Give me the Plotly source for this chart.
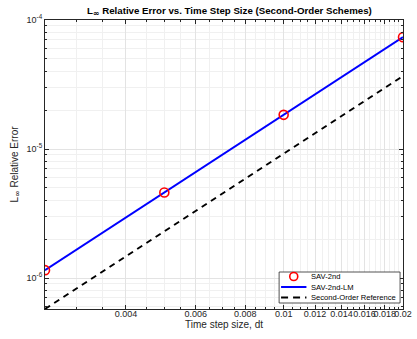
import numpy as np
import plotly.graph_objects as go

# Time step sizes and L-infinity relative errors
dt = [0.0025, 0.005, 0.01, 0.02]
err_sav2 = [1.15e-6, 4.6e-6, 1.84e-5, 7.36e-5]
err_sav2_lm = [1.15e-6, 4.6e-6, 1.84e-5, 7.36e-5]
ref_second_order = [5.75e-7, 2.3e-6, 9.2e-6, 3.68e-5]

x_tick_vals = [0.004, 0.006, 0.008, 0.01, 0.012, 0.014, 0.016, 0.018, 0.02]
x_tick_text = ["0.004", "0.006", "0.008", "0.01", "0.012", "0.014", "0.016", "0.018", "0.02"]
y_tick_vals = [1e-6, 1e-5, 1e-4]
y_tick_text = ["10<sup>-6</sup>", "10<sup>-5</sup>", "10<sup>-4</sup>"]

legend_names = ["SAV-2nd", "SAV-2nd-LM", "Second-Order Reference"]

FONT = "Liberation Sans, Arial, Helvetica, sans-serif"
AX = "#262626"
GRID = "#e3e3e3"
MINOR_GRID = "#f0f0f0"
DASH = "6px,5px"
INF = "<sub><span style='font-family:DejaVu Sans;font-size:8px'>∞</span></sub>"

x_minor = [round(v, 4) for v in np.arange(0.0025, 0.02001, 0.0005)]
y_minor = [m * 10.0 ** e for e in (-7, -6, -5) for m in range(2, 10)]

fig = go.Figure()

fig.add_trace(go.Scatter(
    x=dt, y=err_sav2_lm, mode="lines", name=legend_names[1],
    line=dict(color="#0000ff", width=2),
))
fig.add_trace(go.Scatter(
    x=dt, y=ref_second_order, mode="lines", name=legend_names[2],
    line=dict(color="black", width=2, dash=DASH),
))
fig.add_trace(go.Scatter(
    x=dt, y=err_sav2, mode="markers", name=legend_names[0],
    marker=dict(symbol="circle-open", size=9, color="#ff0000",
                line=dict(color="#ff0000", width=1.6)),
))

axis_common = dict(
    type="log", showline=True, linecolor=AX, linewidth=1, mirror="ticks",
    ticks="inside", ticklen=4, tickcolor=AX, showgrid=True, gridcolor=GRID,
    gridwidth=1, zeroline=False, tickfont=dict(family=FONT, size=9, color=AX),
)

fig.update_xaxes(
    **axis_common,
    range=[np.log10(0.0025), np.log10(0.02) + 1e-5],
    tickmode="array", tickvals=x_tick_vals, ticktext=x_tick_text, tickangle=0,
    ticklabeloverflow="allow", ticklabelstandoff=-4,
    minor=dict(tickmode="array", tickvals=x_minor, showgrid=True,
               gridcolor=MINOR_GRID, ticks="inside", ticklen=2, tickcolor=AX),
    title=dict(text="Time step size, dt", font=dict(family=FONT, size=10, color=AX),
               standoff=2),
)
fig.update_yaxes(
    **axis_common,
    range=[np.log10(5.75e-7), -4],
    tickmode="array", tickvals=y_tick_vals, ticktext=y_tick_text,
    minor=dict(tickmode="array", tickvals=y_minor, showgrid=True,
               gridcolor=MINOR_GRID, ticks="inside", ticklen=2, tickcolor=AX),
    title=dict(text="L" + INF + " Relative Error", font=dict(family=FONT, size=10, color=AX),
               standoff=6),
)

# Compact legend box in the lower-right corner of the axes
W, H = 367.0, 289.0  # plot area in px
def px(x):
    return (x - 45) / W
def py(y):
    return (309 - y) / H

shapes = [
    dict(type="rect", xref="paper", yref="paper", x0=px(285), x1=px(409),
         y0=py(303), y1=py(272), fillcolor="white", line=dict(color=AX, width=0.8), layer="above"),
    dict(type="circle", xref="paper", yref="paper", xsizemode="pixel", ysizemode="pixel",
         xanchor=px(300), yanchor=py(276.5), x0=-4, x1=4, y0=-4, y1=4,
         line=dict(color="#ff0000", width=1.6), layer="above"),
    dict(type="line", xref="paper", yref="paper", x0=px(287), x1=px(313),
         y0=py(287), y1=py(287), line=dict(color="#0000ff", width=2), layer="above"),
    dict(type="line", xref="paper", yref="paper", x0=px(287), x1=px(313),
         y0=py(297.5), y1=py(297.5), line=dict(color="black", width=2, dash="7px,5px"), layer="above"),
]
annotations = [
    dict(text=name, xref="paper", yref="paper", x=px(316), y=py(yy),
         xanchor="left", yanchor="middle", showarrow=False,
         font=dict(family=FONT, size=7.6, color="black"))
    for name, yy in zip(legend_names, [276.5, 287, 297.5])
]

fig.update_layout(
    width=417, height=339,
    margin=dict(l=45, r=5, t=20, b=30),
    paper_bgcolor="white", plot_bgcolor="white",
    title=dict(text="<b>L" + INF + " Relative Error vs. Time Step Size (Second-Order Schemes)</b>",
               font=dict(family=FONT, size=9.7, color="black"),
               x=0.55, xanchor="center", y=0.978, yanchor="top"),
    showlegend=False,
    shapes=shapes,
    annotations=annotations,
)

fig.write_html("out.html")
